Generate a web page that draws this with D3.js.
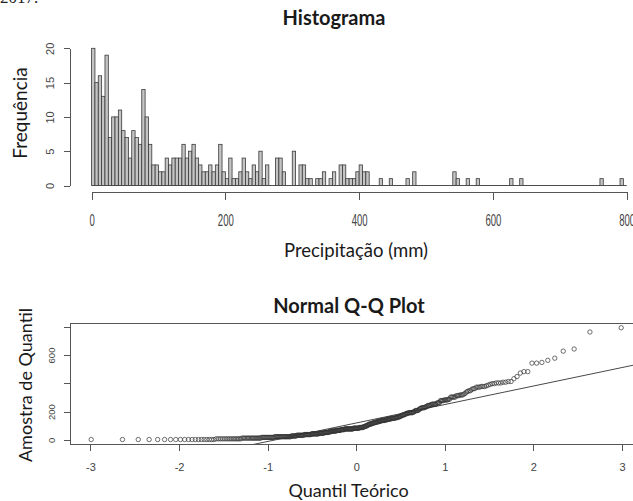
<!DOCTYPE html>
<html><head><meta charset="utf-8">
<script src="https://cdn.jsdelivr.net/npm/d3@7"></script>
<style>
body{margin:0;background:#fff}
svg{display:block;background:#fff}
.ax path,.ax line{stroke:#555;stroke-width:1;shape-rendering:crispEdges}
.ax text{font-family:"Liberation Sans",Arial,sans-serif;fill:#444}
.lbl{font-family:Lato,"Open Sans",sans-serif;fill:#1a1a1a}
</style></head><body>
<svg id="c" width="633" height="501"></svg>
<script>
// ---- data ----
const binWidth = 5; // mm
const histCounts = [
 20,15,16,13,19,7,10,10,11,8,
 7,4,8,7,6,14,10,6,3,3,
 2,2,4,3,4,4,4,6,4,5,
 6,4,3,2,2,3,2,3,6,2,
 1,4,1,1,2,4,2,1,3,2,
 5,1,3,0,0,4,4,2,0,0,
 5,0,3,3,1,1,0,1,1,2,
 0,1,2,0,3,3,1,1,1,2,
 3,2,2,0,0,0,1,0,0,1,
 0,0,0,0,1,0,2,0,0,0,
 0,0,0,0,0,0,0,0,2,1,
 0,0,1,0,0,1,0,0,0,0,
 0,0,0,0,0,1,0,0,1,0,
 0,0,0,0,0,0,0,0,0,0,
 0,0,0,0,0,0,0,0,0,0,
 0,0,1,0,0,0,0,0,1,0];
const histXTicks = [0,200,400,600,800];
const histYTicks = [0,5,10,15,20];
const qqXTicks = [-3,-2,-1,0,1,2,3];
const qqYTicks = [0,200,400,600,800];
const qqYLabels = [0,200,600];

// ---- helpers ----
function qnorm(p){
  const a=[-3.969683028665376e+01,2.209460984245205e+02,-2.759285104469687e+02,1.383577518672690e+02,-3.066479806614716e+01,2.506628277459239e+00];
  const b=[-5.447609879822406e+01,1.615858368580409e+02,-1.556989798598866e+02,6.680131188771972e+01,-1.328068155288572e+01];
  const c=[-7.784894002430293e-03,-3.223964580411365e-01,-2.400758277161838e+00,-2.549732539343734e+00,4.374664141464968e+00,2.938163982698783e+00];
  const d=[7.784695709041462e-03,3.224671290700398e-01,2.445134137142996e+00,3.754408661907416e+00];
  const pl=0.02425, ph=1-pl; let q,r;
  if(p<pl){q=Math.sqrt(-2*Math.log(p));return (((((c[0]*q+c[1])*q+c[2])*q+c[3])*q+c[4])*q+c[5])/((((d[0]*q+d[1])*q+d[2])*q+d[3])*q+1);}
  if(p<=ph){q=p-0.5;r=q*q;return (((((a[0]*r+a[1])*r+a[2])*r+a[3])*r+a[4])*r+a[5])*q/(((((b[0]*r+b[1])*r+b[2])*r+b[3])*r+b[4])*r+1);}
  q=Math.sqrt(-2*Math.log(1-p));return -(((((c[0]*q+c[1])*q+c[2])*q+c[3])*q+c[4])*q+c[5])/((((d[0]*q+d[1])*q+d[2])*q+d[3])*q+1);
}
function quantile7(s,p){const h=(s.length-1)*p,l=Math.floor(h);return s[l]+(h-l)*((s[Math.min(l+1,s.length-1)])-s[l]);}

const bins = histCounts.map((c,i)=>({x0:i*binWidth,x1:(i+1)*binWidth,count:c}));
// sample: every observation placed at its bin centre
const sample = [];
bins.forEach(b=>{for(let k=0;k<b.count;k++) sample.push((b.x0+b.x1)/2);});
sample.sort((a,b)=>a-b);
const n = sample.length;
const theo = sample.map((v,i)=>qnorm((i+1-0.5)/n));

const svg = d3.select("#c");

svg.append("text").attr("x",0).attr("y",3)
  .style("font-family","'Liberation Serif',serif").style("font-size","17px").attr("fill","#222").text("2017.");

// ===== Histogram =====
const hx = d3.scaleLinear().domain([0,800]).range([91.6,626.7]);
const hy = d3.scaleLinear().domain([0,20]).range([185.5,48.3]);

svg.append("line").attr("x1",hx(0)).attr("x2",hx(800)).attr("y1",hy(0)).attr("y2",hy(0))
  .attr("stroke","#3a3a3a").attr("stroke-width",0.9);
svg.append("g").selectAll("rect").data(bins.filter(b=>b.count>0)).join("rect")
  .attr("x",d=>hx(d.x0)).attr("width",d=>hx(d.x1)-hx(d.x0))
  .attr("y",d=>hy(d.count)).attr("height",d=>hy(0)-hy(d.count))
  .attr("fill","#c4c4c4").attr("stroke","#3a3a3a").attr("stroke-width",0.8);

const hxa = svg.append("g").attr("class","ax").attr("transform","translate(0,191.5)")
  .call(d3.axisBottom(hx).tickValues(histXTicks).tickSize(8).tickSizeOuter(0).tickFormat(d=>String(d)));
hxa.selectAll("text").attr("y",0).attr("dy",0)
  .attr("transform","translate(0,34) scale(0.6,1)").style("font-size","16px");

const hya = svg.append("g").attr("class","ax").attr("transform","translate(70,0)")
  .call(d3.axisLeft(hy).tickValues(histYTicks).tickSize(6).tickSizeOuter(0));
hya.selectAll("text").attr("x",0).attr("y",0).attr("dy","0.35em").attr("text-anchor","middle")
  .attr("transform","translate(-20,0) rotate(-90)").style("font-size","11px");

svg.append("text").attr("class","lbl").attr("x",334).attr("y",25).attr("text-anchor","middle")
  .style("font-weight","bold").style("font-size","20px").text("Histograma");
svg.append("text").attr("class","lbl").attr("x",356).attr("y",257).attr("text-anchor","middle")
  .style("font-size","18.5px").text("Precipitação (mm)");
svg.append("text").attr("class","lbl").attr("transform","translate(27,113) rotate(-90)").attr("text-anchor","middle")
  .style("font-size","19px").text("Frequência");

// ===== Normal Q-Q plot =====
const tx = d3.extent(theo), sy = d3.extent(sample);
const ex = (tx[1]-tx[0])*0.04, ey = (sy[1]-sy[0])*0.04;
const qx = d3.scaleLinear().domain([tx[0]-ex, tx[1]+ex]).range([70,642.4]);
const qy = d3.scaleLinear().domain([sy[0]-ey, sy[1]+ey]).range([444,323.3]);

svg.append("defs").append("clipPath").attr("id","qqclip").append("rect")
  .attr("x",qx.range()[0]).attr("y",qy.range()[1]).attr("width",qx.range()[1]-qx.range()[0]).attr("height",qy.range()[0]-qy.range()[1]);

// qqline through quartiles
const y1 = quantile7(sample,0.25), y3 = quantile7(sample,0.75);
const x1 = qnorm(0.25), x3 = qnorm(0.75);
const slope = (y3-y1)/(x3-x1), inter = y1 - slope*x1;
const xd = qx.domain();
svg.append("line").attr("clip-path","url(#qqclip)")
  .attr("x1",qx(xd[0])).attr("y1",qy(inter+slope*xd[0])).attr("x2",qx(xd[1])).attr("y2",qy(inter+slope*xd[1]))
  .attr("stroke","#333").attr("stroke-width",0.9);

svg.append("g").selectAll("circle").data(sample).join("circle")
  .attr("cx",(d,i)=>qx(theo[i])).attr("cy",d=>qy(d)).attr("r",2.2)
  .attr("fill","none").attr("stroke","#333").attr("stroke-width",0.7);

svg.append("rect").attr("x",qx.range()[0]).attr("y",qy.range()[1])
  .attr("width",qx.range()[1]-qx.range()[0]).attr("height",qy.range()[0]-qy.range()[1])
  .attr("fill","none").attr("stroke","#555").attr("stroke-width",1).attr("shape-rendering","crispEdges");

const qxa = svg.append("g").attr("class","ax").attr("transform","translate(0,444)")
  .call(d3.axisBottom(qx).tickValues(qqXTicks).tickSize(7).tickSizeOuter(0).tickFormat(d=>String(d)));
qxa.select(".domain").remove();
qxa.selectAll("text").attr("y",0).attr("dy",0).attr("transform","translate(0,27)").style("font-size","11px");

const qya = svg.append("g").attr("class","ax").attr("transform","translate(70,0)")
  .call(d3.axisLeft(qy).tickValues(qqYTicks).tickSize(6).tickSizeOuter(0));
qya.select(".domain").remove();
qya.selectAll("text").attr("x",0).attr("y",0).attr("dy","0.35em").attr("text-anchor","middle")
  .attr("transform","translate(-18,0) rotate(-90)").style("font-size","9.5px")
  .text(d=>qqYLabels.includes(d)?d:"");

svg.append("text").attr("class","lbl").attr("x",349).attr("y",312.7).attr("text-anchor","middle")
  .style("font-weight","bold").style("font-size","20px").text("Normal Q-Q Plot");
svg.append("text").attr("class","lbl").attr("x",348.5).attr("y",497).attr("text-anchor","middle")
  .style("font-size","18px").text("Quantil Teórico");
svg.append("text").attr("class","lbl").attr("transform","translate(32,385) rotate(-90)").attr("text-anchor","middle")
  .style("font-size","18px").text("Amostra de Quantil");
</script>
</body></html>
